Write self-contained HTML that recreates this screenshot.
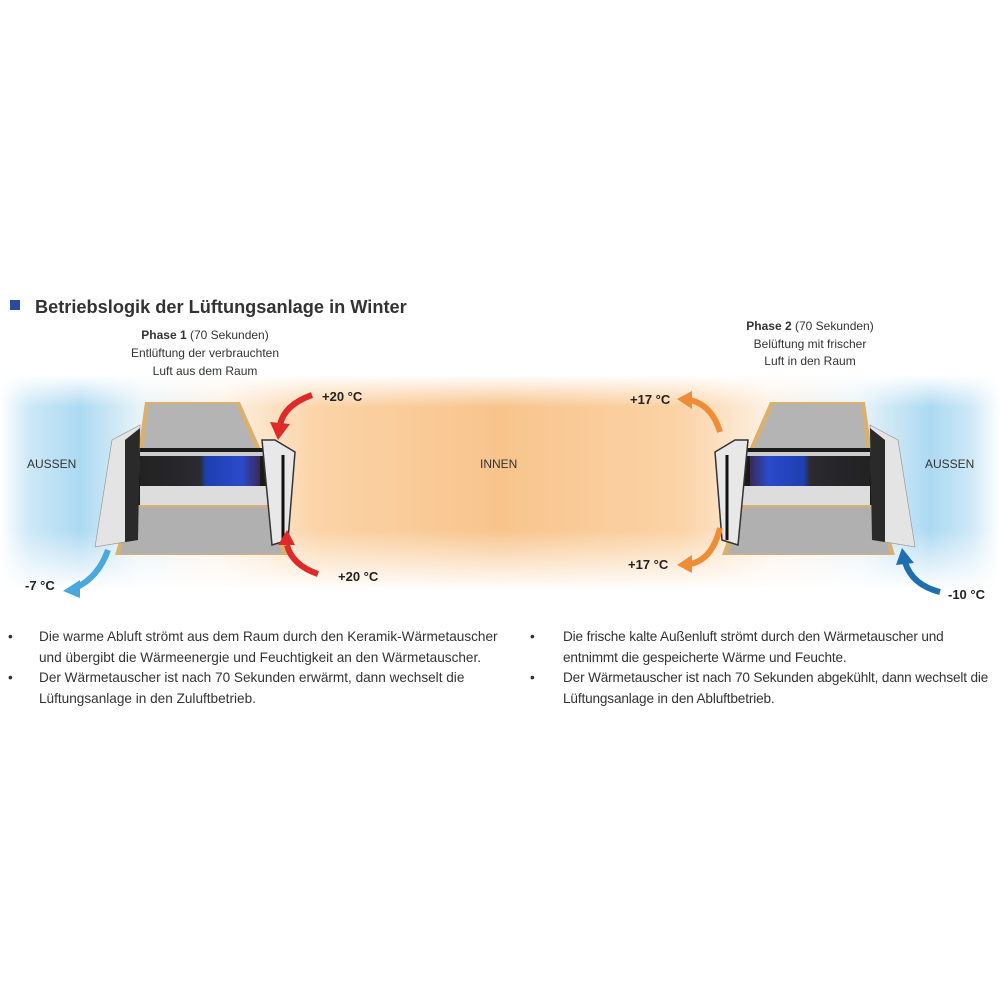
<!DOCTYPE html>
<html><head><meta charset="utf-8"><style>
body{margin:0;width:1000px;height:1000px;background:#fff;position:relative;overflow:hidden;font-family:"Liberation Sans",sans-serif;color:#222}
.t{position:absolute;white-space:nowrap}
.band{position:absolute;left:0;top:375px;width:1000px;height:215px;background:linear-gradient(90deg,#fff 0%,#cde8f7 3%,#acd9f2 8%,#e8f3f8 14%,#fdf1e4 22%,#fbd3a6 32%,#f8c48c 50%,#fbd3a6 68%,#fdf1e4 77%,#e8f3f8 86%,#acd9f2 93%,#cde8f7 97%,#fff 100%)}
.fade{position:absolute;left:0;top:375px;width:1000px;height:215px;background:linear-gradient(180deg,#fff 0%,rgba(255,255,255,0) 15%,rgba(255,255,255,0) 72%,#fff 100%)}
.b{position:absolute;font-size:13.6px;line-height:20.5px;color:#333;white-space:nowrap}
</style></head><body>
<div class="band"></div><div class="fade"></div>
<div class="t" style="left:10px;top:300px;width:10px;height:10px;background:#2a4d9a"></div>
<div class="t" style="left:35px;top:297px;font-size:18.2px;font-weight:bold;color:#333">Betriebslogik der Lüftungsanlage in Winter</div>
<div class="t" style="left:105px;top:326px;width:200px;text-align:center;font-size:12px;line-height:18px;color:#333;white-space:normal"><b>Phase 1</b> (70 Sekunden)<br>Entlüftung der verbrauchten<br>Luft aus dem Raum</div>
<div class="t" style="left:710px;top:318px;width:200px;text-align:center;font-size:12px;line-height:17.5px;color:#333;white-space:normal"><b>Phase 2</b> (70 Sekunden)<br>Belüftung mit frischer<br>Luft in den Raum</div>
<svg class="t" style="left:0;top:0" width="1000" height="1000">
<defs>
<linearGradient id="hx" x1="0" x2="1"><stop offset="0" stop-color="#222"/><stop offset="0.5" stop-color="#2a2a30"/><stop offset="0.55" stop-color="#1e3fb0"/><stop offset="0.85" stop-color="#2a4acc"/><stop offset="1" stop-color="#3a2a55"/></linearGradient>
<g id="unit">
<polygon points="138,452 145,402 240,402 262,452" fill="#d8b070"/>
<polygon points="143,452 149,404 236,404 257,452" fill="#b4b4b4"/>
<rect x="135" y="448" width="135" height="60" fill="#1a1a1a"/>
<rect x="140" y="452" width="125" height="4" fill="#ccc"/>
<rect x="140" y="456" width="120" height="30" fill="url(#hx)"/>
<rect x="140" y="486" width="128" height="20" fill="#ddd"/>
<polygon points="115,555 130,505 270,505 288,555" fill="#d8b070"/>
<polygon points="120,554 134,507 266,507 282,554" fill="#b0b0b0"/>
<polygon points="95,547 112,440 140,425 137,540" fill="#e4e4e4" stroke="#999" stroke-width="0.7"/>
<polygon points="125,440 140,428 138,540 125,542" fill="#2a2a2a"/>
<polygon points="262,440 275,440 295,452 288,540 272,545" fill="#e8e8e8" stroke="#333" stroke-width="1.5"/>
<line x1="283" y1="455" x2="283" y2="540" stroke="#111" stroke-width="3"/>
</g>
</defs>
<use href="#unit"/>
<use href="#unit" transform="translate(1010,0) scale(-1,1)"/>
<g fill="none" stroke-width="6" stroke-linecap="butt">
<path d="M312,395 Q284,405 280,425" stroke="#e02a2a"/>
<path d="M318,574 Q292,565 287,545" stroke="#e02a2a"/>
<path d="M108,550 Q98,578 75,588" stroke="#4aa8dc"/>
<path d="M720,432 Q712,405 690,400" stroke="#ef8d36"/>
<path d="M720,528 Q712,560 690,564" stroke="#ef8d36"/>
<path d="M940,592 Q912,585 905,562" stroke="#1f6fb0"/>
</g>
<g>
<polygon points="270,422 290,424 278,440" fill="#e02a2a"/>
<polygon points="278,545 295,545 287,530" fill="#e02a2a"/>
<polygon points="80,580 80,598 63,591" fill="#4aa8dc"/>
<polygon points="692,391 692,409 677,399" fill="#ef8d36"/>
<polygon points="692,555 692,573 677,565" fill="#ef8d36"/>
<polygon points="896,565 914,563 902,548" fill="#1f6fb0"/>
</g>
</svg>
<div class="t" style="left:322px;top:389px;font-size:13px;font-weight:bold">+20 °C</div>
<div class="t" style="left:338px;top:569px;font-size:13px;font-weight:bold">+20 °C</div>
<div class="t" style="left:25px;top:578px;font-size:13px;font-weight:bold">-7 °C</div>
<div class="t" style="left:630px;top:392px;font-size:13px;font-weight:bold">+17 °C</div>
<div class="t" style="left:628px;top:557px;font-size:13px;font-weight:bold">+17 °C</div>
<div class="t" style="left:948px;top:587px;font-size:13px;font-weight:bold">-10 °C</div>
<div class="t" style="left:27px;top:457px;font-size:12px;color:#333">AUSSEN</div>
<div class="t" style="left:925px;top:457px;font-size:12px;color:#333">AUSSEN</div>
<div class="t" style="left:480px;top:457px;font-size:12px;color:#333">INNEN</div>
<div class="b" style="left:8px;top:627px">•<br><br>•</div>
<div class="b" style="left:39px;top:627px">Die warme Abluft strömt aus dem Raum durch den Keramik-Wärmetauscher<br>und übergibt die Wärmeenergie und Feuchtigkeit an den Wärmetauscher.<br>Der Wärmetauscher ist nach 70 Sekunden erwärmt, dann wechselt die<br>Lüftungsanlage in den Zuluftbetrieb.</div>
<div class="b" style="left:530px;top:627px">•<br><br>•</div>
<div class="b" style="left:563px;top:627px;letter-spacing:-0.15px">Die frische kalte Außenluft strömt durch den Wärmetauscher und<br>entnimmt die gespeicherte Wärme und Feuchte.<br>Der Wärmetauscher ist nach 70 Sekunden abgekühlt, dann wechselt die<br>Lüftungsanlage in den Abluftbetrieb.</div>
</body></html>
